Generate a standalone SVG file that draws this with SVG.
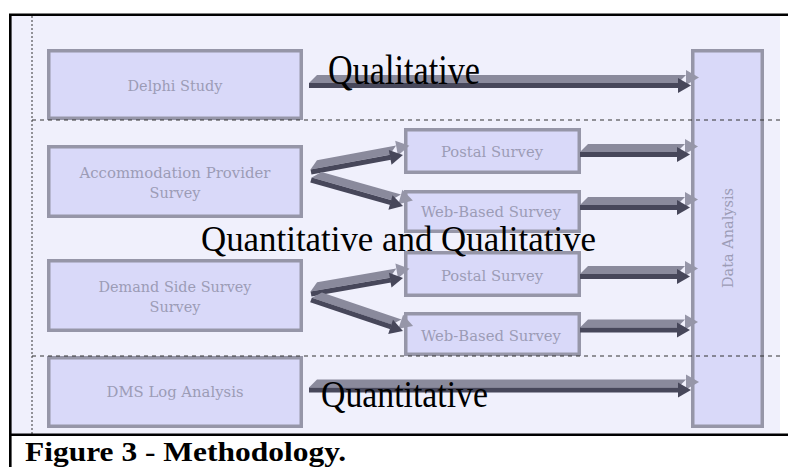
<svg xmlns="http://www.w3.org/2000/svg" width="788" height="467" viewBox="0 0 788 467">
<style>
.bg{fill:#f0f0fc}
.box{fill:#d9d9f9;stroke:#9696a8;stroke-width:3.5}
.bt{font-family:"DejaVu Serif",serif;font-size:14px;fill:#9c9cb6;text-anchor:middle}
.lbl{font-family:"Liberation Serif","Times New Roman",serif;font-size:35px;fill:#000}
.cap{font-family:"Liberation Serif","Times New Roman",serif;font-size:27px;font-weight:bold;fill:#000}
.frame{stroke:#000;stroke-width:2.6;fill:none}
.dash{stroke:#333;stroke-width:1;stroke-dasharray:4 4;fill:none}
.dot{stroke:#333;stroke-width:1;stroke-dasharray:2 2;fill:none}
.lt{fill:#8a8a9c}
.lh{fill:#9696a8}
.dk{fill:#47475a}
</style>
<rect class="bg" x="11" y="16" width="769" height="418"/>
<path class="dot" d="M32 16V434"/>

<g id="delphi"><rect class="box" x="48.75" y="50.75" width="252.5" height="67.5"/><text class="bt" x="175" y="91" textLength="95" lengthAdjust="spacingAndGlyphs">Delphi Study</text></g>
<g id="accommodation"><rect class="box" x="48.75" y="146.75" width="252.5" height="69.5"/><text class="bt" x="175" y="178" textLength="191" lengthAdjust="spacingAndGlyphs">Accommodation Provider</text><text class="bt" x="175" y="198" textLength="51" lengthAdjust="spacingAndGlyphs">Survey</text></g>
<g id="demand"><rect class="box" x="48.75" y="260.75" width="252.5" height="69.5"/><text class="bt" x="175" y="292" textLength="153" lengthAdjust="spacingAndGlyphs">Demand Side Survey</text><text class="bt" x="175" y="312" textLength="51" lengthAdjust="spacingAndGlyphs">Survey</text></g>
<g id="dms"><rect class="box" x="48.75" y="357.75" width="252.5" height="68.5"/><text class="bt" x="175" y="397" textLength="137" lengthAdjust="spacingAndGlyphs">DMS Log Analysis</text></g>
<g id="postal1"><rect class="box" x="405.75" y="129.75" width="173.5" height="42.5"/><text class="bt" x="492" y="157" textLength="102" lengthAdjust="spacingAndGlyphs">Postal Survey</text></g>
<g id="web1"><rect class="box" x="405.75" y="191.75" width="173.5" height="39.5"/><text class="bt" x="491" y="217" textLength="140" lengthAdjust="spacingAndGlyphs">Web-Based Survey</text></g>
<g id="postal2"><rect class="box" x="405.75" y="252.75" width="173.5" height="42.5"/><text class="bt" x="492" y="281" textLength="102" lengthAdjust="spacingAndGlyphs">Postal Survey</text></g>
<g id="web2"><rect class="box" x="405.75" y="313.75" width="173.5" height="40.5"/><text class="bt" x="491" y="341" textLength="140" lengthAdjust="spacingAndGlyphs">Web-Based Survey</text></g>
<g id="analysis"><rect class="box" x="692.75" y="50.75" width="69.5" height="375.5"/><text class="bt" transform="translate(733 238) rotate(-90)" x="0" y="0" textLength="100" lengthAdjust="spacingAndGlyphs">Data Analysis</text></g>

<path class="dash" d="M32 120H780M32 356H780"/>

<g id="connectors">
<g transform="translate(309 85.5)"><polygon class="lt" points="0,-2.5 8,-10.5 377,-10.5 369,-2.5"/><polygon class="lh" points="377,-15.5 390,-8 377,-0.5"/><rect class="dk" x="0" y="-2.5" width="369.5" height="5"/><polygon class="dk" points="369,-7.5 382,0 369,7.5"/></g>
<g transform="translate(580 154.5)"><polygon class="lt" points="0,-2.5 8,-10.5 105,-10.5 97,-2.5"/><polygon class="lh" points="105,-15.5 118,-8 105,-0.5"/><rect class="dk" x="0" y="-2.5" width="97.5" height="5"/><polygon class="dk" points="97,-7.5 110,0 97,7.5"/></g>
<g transform="translate(580 207.5)"><polygon class="lt" points="0,-2.5 8,-10.5 105,-10.5 97,-2.5"/><polygon class="lh" points="105,-15.5 118,-8 105,-0.5"/><rect class="dk" x="0" y="-2.5" width="97.5" height="5"/><polygon class="dk" points="97,-7.5 110,0 97,7.5"/></g>
<g transform="translate(580 276.5)"><polygon class="lt" points="0,-2.5 8,-10.5 105,-10.5 97,-2.5"/><polygon class="lh" points="105,-15.5 118,-8 105,-0.5"/><rect class="dk" x="0" y="-2.5" width="97.5" height="5"/><polygon class="dk" points="97,-7.5 110,0 97,7.5"/></g>
<g transform="translate(580 330)"><polygon class="lt" points="0,-2.5 8,-10.5 105,-10.5 97,-2.5"/><polygon class="lh" points="105,-15.5 118,-8 105,-0.5"/><rect class="dk" x="0" y="-2.5" width="97.5" height="5"/><polygon class="dk" points="97,-7.5 110,0 97,7.5"/></g>
<g transform="translate(309 390)"><polygon class="lt" points="0,-2.5 8,-10.5 377,-10.5 369,-2.5"/><polygon class="lh" points="377,-15.5 390,-8 377,-0.5"/><rect class="dk" x="0" y="-2.5" width="369.5" height="5"/><polygon class="dk" points="369,-7.5 382,0 369,7.5"/></g>
<g transform="translate(311 172) rotate(-10.5)"><polygon class="lt" points="0,-2.5 8,-10.5 88.5,-10.5 80.5,-2.5"/><polygon class="lh" points="88.5,-15.5 101.5,-8 88.5,-0.5"/><rect class="dk" x="0" y="-2.5" width="81" height="5"/><polygon class="dk" points="80.5,-7.5 93.5,0 80.5,7.5"/></g>
<g transform="translate(311 180) rotate(15.8)"><polygon class="lt" points="0,-2.5 8,-10.5 90.6,-10.5 82.6,-2.5"/><polygon class="lh" points="90.6,-15.5 103.6,-8 90.6,-0.5"/><rect class="dk" x="0" y="-2.5" width="83.1" height="5"/><polygon class="dk" points="82.6,-7.5 95.6,0 82.6,7.5"/></g>
<g transform="translate(311 294) rotate(-9.9)"><polygon class="lt" points="0,-2.5 8,-10.5 88.4,-10.5 80.4,-2.5"/><polygon class="lh" points="88.4,-15.5 101.4,-8 88.4,-0.5"/><rect class="dk" x="0" y="-2.5" width="80.9" height="5"/><polygon class="dk" points="80.4,-7.5 93.4,0 80.4,7.5"/></g>
<g transform="translate(311 300) rotate(18.6)"><polygon class="lt" points="0,-2.5 8,-10.5 92,-10.5 84,-2.5"/><polygon class="lh" points="92,-15.5 105,-8 92,-0.5"/><rect class="dk" x="0" y="-2.5" width="84.5" height="5"/><polygon class="dk" points="84,-7.5 97,0 84,7.5"/></g>
</g>

<text class="lbl" transform="translate(328 84) scale(1 1.18)" x="0" y="0" textLength="152" lengthAdjust="spacingAndGlyphs">Qualitative</text>
<text class="lbl" x="201" y="251" textLength="395" lengthAdjust="spacingAndGlyphs">Quantitative and Qualitative</text>
<text class="lbl" transform="translate(321 407) scale(1 1.08)" x="0" y="0" textLength="167" lengthAdjust="spacingAndGlyphs">Quantitative</text>

<path class="frame" d="M10.3 467V14.7H788M10.3 434.7H788"/>
<text class="cap" x="25" y="461" textLength="321" lengthAdjust="spacingAndGlyphs">Figure 3 - Methodology.</text>
</svg>
